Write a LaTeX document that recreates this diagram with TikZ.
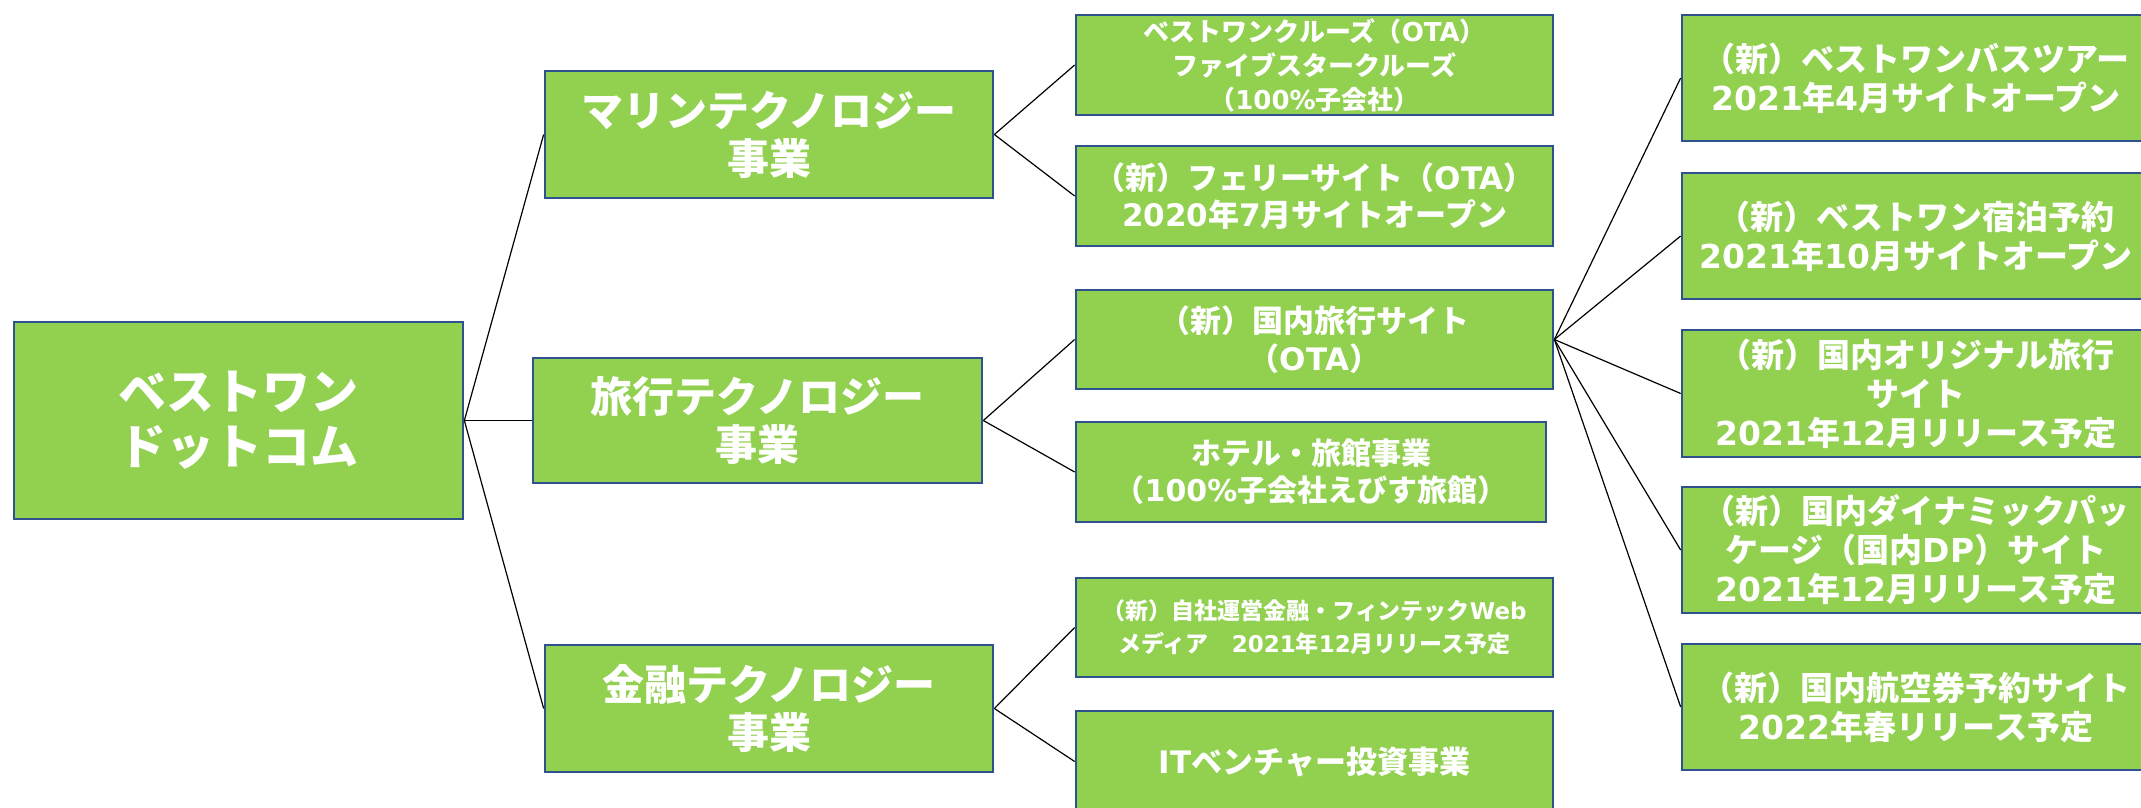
\documentclass[tikz,border=0pt]{standalone}
\usepackage{fontspec}
\setmainfont{Noto Sans CJK JP}
\newfontfamily\lat{DejaVu Sans}
\definecolor{boxgreen}{HTML}{92D050}
\definecolor{boxblue}{HTML}{2F528F}
\newcommand{\fs}[2]{\fontsize{#1pt}{#2pt}\selectfont}
\newcommand{\placebox}[7]{\node[box,#6,minimum width={(#4-#2)*0.5pt},minimum height={(#5-#3)*0.5pt}] (#1) at ({(#2+#4)/2},{(#3+#5)/2}) {#7};}
\tikzset{
  box/.style={draw=boxblue, line width=1.35pt, fill=boxgreen, text=white, align=center, inner sep=0pt},
  link/.style={draw=black, line width=0.6pt},
}
\begin{document}
\begin{tikzpicture}[x=0.5pt,y=-0.5pt]
\useasboundingbox (0,0) rectangle (2141,808);
\clip (0,0) rectangle (2141,808);
% root
\placebox{root}{14}{322}{463}{519}{font={\fs{24}{27.5}\bfseries}}{ベストワン\\ドットコム}
% level 1
\placebox{marine}{545}{71}{993}{198}{font={\fs{21}{24}\bfseries}}{マリンテクノロジー\\事業}
\placebox{travel}{533}{358}{982}{483}{font={\fs{21}{24}\bfseries}}{旅行テクノロジー\\事業}
\placebox{finance}{545}{645}{993}{772}{font={\fs{21}{24}\bfseries}}{金融テクノロジー\\事業}
% level 2
\placebox{cruise}{1076}{15}{1553}{115}{font={\fs{13}{17}\bfseries}}{ベストワンクルーズ（{\lat OTA}）\\ファイブスタークルーズ\\（{\lat 100\%}子会社）}
\placebox{ferry}{1076}{146}{1553}{246}{font={\fs{15.5}{18.5}\bfseries}}{（新）フェリーサイト（{\lat OTA}）\\{\lat 2020}年{\lat 7}月サイトオープン}
\placebox{domestic}{1076}{290}{1553}{389}{font={\fs{15.5}{19}\bfseries}}{（新）国内旅行サイト\\（{\lat OTA}）}
\placebox{hotel}{1076}{422}{1546}{522}{font={\fs{15}{18.5}\bfseries}}{ホテル・旅館事業\\（{\lat 100\%}子会社えびす旅館）}
\placebox{fintech}{1076}{578}{1553}{677}{font={\fs{11.5}{16.5}\bfseries}}{（新）自社運営金融・フィンテック{\lat Web}\\メディア　{\lat 2021}年{\lat 12}月リリース予定}
\placebox{it}{1076}{711}{1553}{812}{font={\fs{15.5}{19}\bfseries}}{{\lat IT}ベンチャー投資事業}
% level 3
\placebox{bus}{1682}{15}{2150}{141}{font={\fs{16.5}{19.5}\bfseries}}{（新）ベストワンバスツアー\\{\lat 2021}年{\lat 4}月サイトオープン}
\placebox{stay}{1682}{173}{2150}{299}{font={\fs{16.5}{19.5}\bfseries}}{（新）ベストワン宿泊予約\\{\lat 2021}年{\lat 10}月サイトオープン}
\placebox{orig}{1682}{330}{2150}{457}{font={\fs{16.5}{19.5}\bfseries}}{（新）国内オリジナル旅行\\サイト\\{\lat 2021}年{\lat 12}月リリース予定}
\placebox{dp}{1682}{487}{2150}{613}{font={\fs{16.5}{19.5}\bfseries}}{（新）国内ダイナミックパッ\\ケージ（国内{\lat DP}）サイト\\{\lat 2021}年{\lat 12}月リリース予定}
\placebox{air}{1682}{644}{2150}{770}{font={\fs{16.5}{19.5}\bfseries}}{（新）国内航空券予約サイト\\{\lat 2022}年春リリース予定}
% connectors
\draw[link] (root.east) -- (marine.west);
\draw[link] (root.east) -- (travel.west);
\draw[link] (root.east) -- (finance.west);
\draw[link] (marine.east) -- (cruise.west);
\draw[link] (marine.east) -- (ferry.west);
\draw[link] (travel.east) -- (domestic.west);
\draw[link] (travel.east) -- (hotel.west);
\draw[link] (finance.east) -- (fintech.west);
\draw[link] (finance.east) -- (it.west);
\draw[link] (domestic.east) -- (bus.west);
\draw[link] (domestic.east) -- (stay.west);
\draw[link] (domestic.east) -- (orig.west);
\draw[link] (domestic.east) -- (dp.west);
\draw[link] (domestic.east) -- (air.west);
\end{tikzpicture}
\end{document}
